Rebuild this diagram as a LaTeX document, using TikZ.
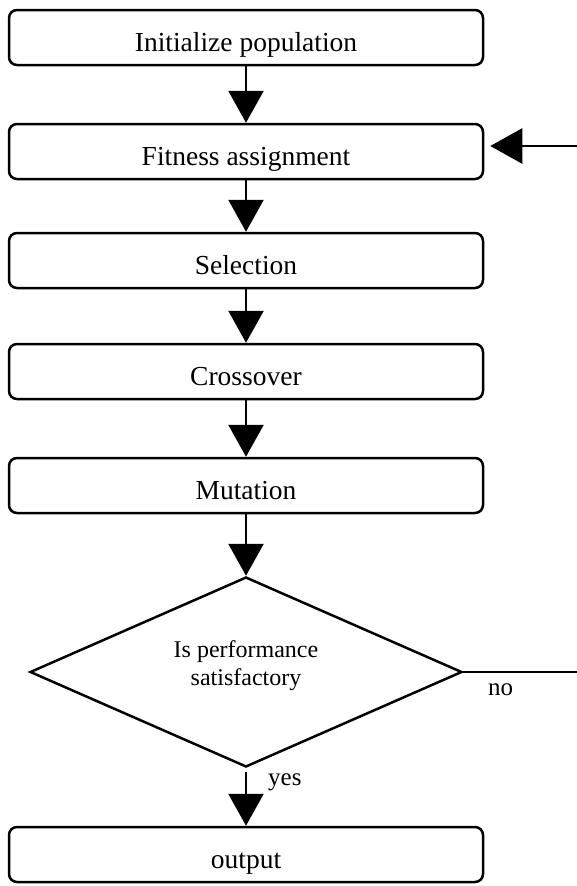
\documentclass[tikz,border=0pt]{standalone}
\usepackage{fontspec}
\setmainfont{Liberation Serif}
\usetikzlibrary{shapes.geometric,arrows.meta}
\begin{document}
\begin{tikzpicture}[x=1pt,y=1pt,
  stepbox/.style={draw,line width=2.5pt,rounded corners=8pt,minimum width=474pt,
    minimum height=55pt,inner sep=0pt,font=\fontsize{27.5}{33}\selectfont,
    text height=27pt,text depth=0pt},
  decbox/.style={draw,shape=diamond,line width=2.5pt,aspect=2.27,inner sep=0pt,
    minimum width=432pt,minimum height=190pt,align=center,
    font=\fontsize{24}{28}\selectfont,text height=40pt,text depth=14pt},
  arr/.style={line width=2.5pt,-{Triangle[length=32pt,width=35pt]}},
  plain/.style={line width=2.5pt},
  lbl/.style={inner sep=0pt,anchor=base west,font=\fontsize{25}{30}\selectfont}]
\useasboundingbox (0,0) rectangle (577,-886);
\fill[white] (0,0) rectangle (577,-886);
\node[stepbox] (init) at (246,-37.5) {Initialize population};
\node[stepbox] (fit)  at (246,-151.5) {Fitness assignment};
\node[stepbox] (sel)  at (246,-260.5) {Selection};
\node[stepbox] (cro)  at (246,-371.5) {Crossover};
\node[stepbox] (mut)  at (246,-485.5) {Mutation};
\node[decbox]  (dec)  at (246,-672) {Is performance\\satisfactory};
\node[stepbox] (out)  at (246,-854.5) {output};
\coordinate (fbin) at (577,-146);
\coordinate (noend) at (577,-672);
\draw[arr] (init) -- (fit);
\draw[arr] (fit) -- (sel);
\draw[arr] (sel) -- (cro);
\draw[arr] (cro) -- (mut);
\draw[arr] (mut) -- (dec);
\draw[arr,shorten <=4pt] (dec) -- (out);
\draw[plain] (dec.east) -- (noend);
\draw[arr,shorten >=6pt] (fbin) -- (fbin -| fit.east);
\node[lbl] (no) at (488,-695) {no};
\node[lbl] (yes) at (268,-785) {yes};
\end{tikzpicture}
\end{document}
